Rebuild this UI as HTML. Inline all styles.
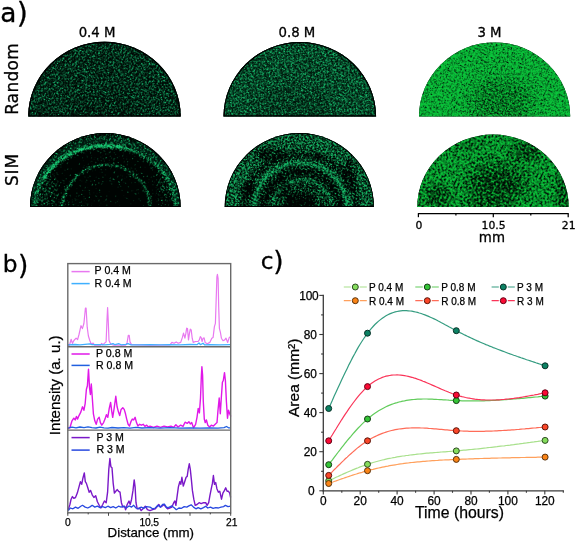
<!DOCTYPE html>
<html><head><meta charset="utf-8"><title>Figure</title>
<style>
html,body{margin:0;padding:0;background:#fff;}
svg{display:block;}
.dv{font-family:"DejaVu Sans","Liberation Sans",sans-serif;fill:#000;stroke:#000;stroke-width:0.3px;}
.ar{font-family:"Liberation Sans","DejaVu Sans",sans-serif;fill:#000;stroke:#000;stroke-width:0.25px;}
</style></head><body>
<svg width="575" height="542" viewBox="0 0 575 542">
<rect width="575" height="542" fill="#fff"/>
<defs>
<clipPath id="cs1"><path d="M28.2,116.6 A76.2,74.7 0 0 1 180.7,116.6 Z"/></clipPath>
<clipPath id="cs2"><path d="M223.5,116.6 A76.3,74.6 0 0 1 376.1,116.6 Z"/></clipPath>
<clipPath id="cs3"><path d="M419.0,116.6 A75.6,74.2 0 0 1 570.2,116.6 Z"/></clipPath>
<clipPath id="cs4"><path d="M30.0,206.9 A75.3,73.9 0 0 1 180.6,206.9 Z"/></clipPath>
<clipPath id="cs5"><path d="M224.7,206.9 A74.6,73.9 0 0 1 373.9,206.9 Z"/></clipPath>
<clipPath id="cs6"><path d="M417.3,206.9 A75.7,72.3 0 0 1 568.7,206.9 Z"/></clipPath>
<filter id="n1" x="0" y="0" width="100%" height="100%" color-interpolation-filters="sRGB">
<feTurbulence type="fractalNoise" baseFrequency="0.62" numOctaves="2" seed="3" result="n"/>
<feColorMatrix in="n" type="matrix" values="1 0 0 0 0  1 0 0 0 0  1 0 0 0 0  0 0 0 0 1" result="g"/>
<feComposite in="g" in2="SourceGraphic" operator="arithmetic" k1="0" k2="3.1" k3="1.0" k4="-2.426" result="i"/>
<feColorMatrix in="i" type="matrix" values="0.09 0 0 0 0  0 0.72 0 0 0.04  0 0 0.44 0 0.02  0 0 0 0 1"/>
</filter>
<filter id="n2" x="0" y="0" width="100%" height="100%" color-interpolation-filters="sRGB">
<feTurbulence type="fractalNoise" baseFrequency="0.62" numOctaves="2" seed="7" result="n"/>
<feColorMatrix in="n" type="matrix" values="1 0 0 0 0  1 0 0 0 0  1 0 0 0 0  0 0 0 0 1" result="g"/>
<feComposite in="g" in2="SourceGraphic" operator="arithmetic" k1="0" k2="3.2" k3="1.0" k4="-2.312" result="i"/>
<feColorMatrix in="i" type="matrix" values="0.09 0 0 0 0  0 0.68 0 0 0.08  0 0 0.4 0 0.04  0 0 0 0 1"/>
</filter>
<filter id="n3" x="0" y="0" width="100%" height="100%" color-interpolation-filters="sRGB">
<feTurbulence type="fractalNoise" baseFrequency="0.62" numOctaves="2" seed="11" result="n"/>
<feColorMatrix in="n" type="matrix" values="1 0 0 0 0  1 0 0 0 0  1 0 0 0 0  0 0 0 0 1" result="g"/>
<feComposite in="g" in2="SourceGraphic" operator="arithmetic" k1="0" k2="2.9" k3="1.0" k4="-1.551" result="i"/>
<feColorMatrix in="i" type="matrix" values="0.04 0 0 0 0  0 0.74 0 0 0.03  0 0 0.22 0 0.01  0 0 0 0 1"/>
</filter>
<filter id="n4" x="0" y="0" width="100%" height="100%" color-interpolation-filters="sRGB">
<feTurbulence type="fractalNoise" baseFrequency="0.62" numOctaves="2" seed="17" result="n"/>
<feColorMatrix in="n" type="matrix" values="1 0 0 0 0  1 0 0 0 0  1 0 0 0 0  0 0 0 0 1" result="g"/>
<feComposite in="g" in2="SourceGraphic" operator="arithmetic" k1="0" k2="3.8" k3="2.2" k4="-2.696" result="i"/>
<feColorMatrix in="i" type="matrix" values="0.1 0 0 0 0  0 0.8 0 0 0.015  0 0 0.46 0 0.008  0 0 0 0 1"/>
</filter>
<filter id="n5" x="0" y="0" width="100%" height="100%" color-interpolation-filters="sRGB">
<feTurbulence type="fractalNoise" baseFrequency="0.62" numOctaves="2" seed="23" result="n"/>
<feColorMatrix in="n" type="matrix" values="1 0 0 0 0  1 0 0 0 0  1 0 0 0 0  0 0 0 0 1" result="g"/>
<feComposite in="g" in2="SourceGraphic" operator="arithmetic" k1="0" k2="4.0" k3="1.5" k4="-2.650" result="i"/>
<feColorMatrix in="i" type="matrix" values="0.09 0 0 0 0  0 0.72 0 0 0.02  0 0 0.4 0 0.01  0 0 0 0 1"/>
</filter>
<filter id="n6" x="0" y="0" width="100%" height="100%" color-interpolation-filters="sRGB">
<feTurbulence type="fractalNoise" baseFrequency="0.5" numOctaves="2" seed="29" result="n"/>
<feColorMatrix in="n" type="matrix" values="1 0 0 0 0  1 0 0 0 0  1 0 0 0 0  0 0 0 0 1" result="g"/>
<feComposite in="g" in2="SourceGraphic" operator="arithmetic" k1="0" k2="3.8" k3="1.0" k4="-2.140" result="i"/>
<feColorMatrix in="i" type="matrix" values="0.04 0 0 0 0  0 0.74 0 0 0.03  0 0 0.22 0 0.01  0 0 0 0 1"/>
</filter>
<filter id="bl1" x="-20%" y="-20%" width="140%" height="140%"><feGaussianBlur stdDeviation="0.9"/></filter>
<filter id="bl2" x="-20%" y="-20%" width="140%" height="140%"><feGaussianBlur stdDeviation="2"/></filter>
<filter id="bl4" x="-20%" y="-20%" width="140%" height="140%"><feGaussianBlur stdDeviation="4"/></filter>
<filter id="bl8" x="-30%" y="-30%" width="160%" height="160%"><feGaussianBlur stdDeviation="8"/></filter>
</defs>
<g clip-path="url(#cs1)">
<rect x="25.2" y="38.9" width="158.4" height="80.7" fill="#000"/>
<g filter="url(#n1)" transform="rotate(27 104.5 79.2)"><g transform="rotate(-27 104.5 79.2)">
<rect x="-4.8" y="-11.1" width="218.4" height="180.7" fill="#000"/>
<rect x="25.2" y="38.9" width="158.4" height="80.7" fill="#ffffff"/><ellipse cx="104.5" cy="108.6" rx="40.0" ry="22.0" fill="#000000" opacity="0.08" filter="url(#bl8)"/>
</g></g>
<path d="M28.2,116.6 A76.2,74.7 0 0 1 180.7,116.6 Z" fill="none" stroke="#000" stroke-width="2.6"/>
</g>
<g clip-path="url(#cs2)">
<rect x="220.5" y="39.0" width="158.6" height="80.6" fill="#000"/>
<g filter="url(#n2)" transform="rotate(27 299.8 79.3)"><g transform="rotate(-27 299.8 79.3)">
<rect x="190.5" y="-11.0" width="218.6" height="180.6" fill="#000"/>
<rect x="220.5" y="39.0" width="158.6" height="80.6" fill="#ffffff"/><ellipse cx="294.8" cy="106.6" rx="40.0" ry="22.0" fill="#000000" opacity="0.1" filter="url(#bl8)"/>
</g></g>
<path d="M223.5,116.6 A76.3,74.6 0 0 1 376.1,116.6 Z" fill="none" stroke="#000" stroke-width="2.6"/>
</g>
<g clip-path="url(#cs3)">
<rect x="416.0" y="39.4" width="157.2" height="80.2" fill="#000"/>
<g filter="url(#n3)" transform="rotate(27 494.6 79.5)"><g transform="rotate(-27 494.6 79.5)">
<rect x="386.0" y="-10.6" width="217.2" height="180.2" fill="#000"/>
<rect x="416.0" y="39.4" width="157.2" height="80.2" fill="#ffffff"/><ellipse cx="500.6" cy="102.6" rx="32.0" ry="24.0" fill="#000000" opacity="0.3" filter="url(#bl8)"/>
</g></g>
</g>
<g clip-path="url(#cs4)">
<rect x="27.0" y="130.0" width="156.6" height="79.9" fill="#000"/>
<g filter="url(#n4)" transform="rotate(27 105.3 169.9)"><g transform="rotate(-27 105.3 169.9)">
<rect x="-3.0" y="80.0" width="216.6" height="179.9" fill="#000"/>
<rect x="27.0" y="130.0" width="156.6" height="79.9" fill="#5c5c5c"/><ellipse cx="105.3" cy="206.9" rx="67.0" ry="58.0" fill="#000000" opacity="0.92" filter="url(#bl2)"/><ellipse cx="48.3" cy="196.9" rx="12.0" ry="22.0" fill="#737373" opacity="0.7" filter="url(#bl4)"/><ellipse cx="163.3" cy="184.9" rx="8.0" ry="22.0" fill="#666666" opacity="0.7" filter="url(#bl4)"/><ellipse cx="83.3" cy="201.9" rx="20.0" ry="8.0" fill="#4c4c4c" opacity="0.5" filter="url(#bl4)"/><ellipse cx="110.3" cy="158.9" rx="30.0" ry="5.0" fill="#4c4c4c" opacity="0.6" filter="url(#bl4)"/><ellipse cx="115.3" cy="176.9" rx="30.0" ry="8.0" fill="#333333" opacity="0.5" filter="url(#bl4)"/><ellipse cx="105.3" cy="206.9" rx="70.0" ry="61.0" fill="none" stroke="#bdbdbd" stroke-width="1.9" opacity="1" filter="url(#bl1)"/><path d="M43.3,178.9 A70,61 0 0 1 125.3,148.4" fill="none" stroke="#e6e6e6" stroke-width="2.2" filter="url(#bl1)"/><ellipse cx="106.3" cy="208.9" rx="44.0" ry="44.0" fill="none" stroke="#cccccc" stroke-width="1.9" opacity="1" filter="url(#bl1)"/>
</g></g>
<g fill="none" stroke="#14a860" filter="url(#bl1)"><ellipse cx="105.3" cy="206.9" rx="70" ry="61" stroke-width="1.4" opacity="0.2"/><ellipse cx="106.3" cy="208.9" rx="44" ry="44" stroke-width="1.4" opacity="0.18"/><ellipse cx="105.3" cy="206.9" rx="73.5" ry="67" stroke-width="6" opacity="0.12"/></g>
<path d="M30.0,206.9 A75.3,73.9 0 0 1 180.6,206.9 Z" fill="none" stroke="#000" stroke-width="2.0"/>
</g>
<g clip-path="url(#cs5)">
<rect x="221.7" y="130.0" width="155.2" height="79.9" fill="#000"/>
<g filter="url(#n5)" transform="rotate(27 299.3 169.9)"><g transform="rotate(-27 299.3 169.9)">
<rect x="191.7" y="80.0" width="215.2" height="179.9" fill="#000"/>
<rect x="221.7" y="130.0" width="155.2" height="79.9" fill="#b5b5b5"/><ellipse cx="300.3" cy="207.9" rx="57.0" ry="53.0" fill="none" stroke="#000000" stroke-width="7" opacity="0.5" filter="url(#bl2)"/><ellipse cx="269.3" cy="153.9" rx="16.0" ry="6.0" fill="#000000" opacity="0.5" filter="url(#bl2)"/><ellipse cx="349.3" cy="174.9" rx="6.0" ry="16.0" fill="#000000" opacity="0.55" filter="url(#bl2)"/><ellipse cx="249.3" cy="190.9" rx="7.0" ry="9.0" fill="#000000" opacity="0.55" filter="url(#bl2)"/><ellipse cx="300.3" cy="208.9" rx="45.0" ry="45.0" fill="#000000" opacity="0.25" filter="url(#bl1)"/><ellipse cx="301.3" cy="208.9" rx="38.0" ry="37.0" fill="none" stroke="#000000" stroke-width="6" opacity="0.6" filter="url(#bl2)"/><ellipse cx="302.3" cy="208.9" rx="30.0" ry="29.0" fill="none" stroke="#ffffff" stroke-width="2.2" opacity="0.6" filter="url(#bl1)"/><ellipse cx="300.3" cy="203.9" rx="15.0" ry="12.0" fill="#000000" opacity="0.8" filter="url(#bl2)"/><ellipse cx="283.3" cy="188.9" rx="5.0" ry="10.0" fill="#000000" opacity="0.4" filter="url(#bl2)"/><ellipse cx="300.3" cy="208.9" rx="46.5" ry="46.0" fill="none" stroke="#ffffff" stroke-width="2.0" opacity="1" filter="url(#bl1)"/>
</g></g>
<g fill="none" stroke="#1cc070" filter="url(#bl1)"><ellipse cx="300.3" cy="208.9" rx="46.5" ry="46" stroke-width="1.3" opacity="0.4"/><ellipse cx="302.3" cy="208.9" rx="30" ry="29" stroke-width="1.2" opacity="0.2"/></g>
<path d="M224.7,206.9 A74.6,73.9 0 0 1 373.9,206.9 Z" fill="none" stroke="#000" stroke-width="2.0"/>
</g>
<g clip-path="url(#cs6)">
<rect x="414.3" y="131.6" width="157.4" height="78.3" fill="#000"/>
<g filter="url(#n6)" transform="rotate(27 493.0 170.8)"><g transform="rotate(-27 493.0 170.8)">
<rect x="384.3" y="81.6" width="217.4" height="178.3" fill="#000"/>
<rect x="414.3" y="131.6" width="157.4" height="78.3" fill="#f2f2f2"/><ellipse cx="497.0" cy="182.9" rx="30.0" ry="18.0" fill="#000000" opacity="0.5" filter="url(#bl8)"/><ellipse cx="527.0" cy="150.9" rx="15.0" ry="9.0" fill="#000000" opacity="0.45" filter="url(#bl4)"/><ellipse cx="437.0" cy="196.9" rx="13.0" ry="12.0" fill="#000000" opacity="0.4" filter="url(#bl4)"/><ellipse cx="563.0" cy="190.9" rx="6.0" ry="22.0" fill="#000000" opacity="0.45" filter="url(#bl4)"/><ellipse cx="489.0" cy="203.9" rx="26.0" ry="5.0" fill="#000000" opacity="0.4" filter="url(#bl4)"/><ellipse cx="463.0" cy="144.9" rx="20.0" ry="5.0" fill="#000000" opacity="0.25" filter="url(#bl4)"/><ellipse cx="533.0" cy="184.9" rx="8.0" ry="12.0" fill="#ffffff" opacity="0.3" filter="url(#bl4)"/><ellipse cx="455.0" cy="170.9" rx="16.0" ry="10.0" fill="#ffffff" opacity="0.3" filter="url(#bl4)"/>
</g></g>
</g>
<text class="dv" x="0.2" y="21.6" font-size="26.4">a</text>
<text class="dv" x="16.8" y="22.8" font-size="28.5">)</text>
<text class="dv" x="2.7" y="271.5" font-size="23.3">b</text>
<text class="dv" x="17.9" y="273.6" font-size="26.5">)</text>
<text class="dv" x="260.7" y="268.8" font-size="23.3">c</text>
<text class="dv" x="273.2" y="270.3" font-size="26.5">)</text>
<text class="dv" x="97.1" y="37.4" font-size="13.3" text-anchor="middle">0.4 M</text>
<text class="dv" x="296.9" y="37.4" font-size="13.3" text-anchor="middle">0.8 M</text>
<text class="dv" x="489.5" y="37.4" font-size="13.3" text-anchor="middle">3 M</text>
<text class="dv" transform="translate(18.3,78.9) rotate(-90)" font-size="17.0" text-anchor="middle" letter-spacing="0.25">Random</text>
<text class="dv" transform="translate(18.3,169.5) rotate(-90)" font-size="17.0" text-anchor="middle" letter-spacing="0.9">SIM</text>
<g stroke="#000" stroke-width="1.25" fill="none">
<line x1="417.9" y1="213.6" x2="568.7" y2="213.6"/>
<line x1="418.4" y1="213.6" x2="418.4" y2="217.2"/>
<line x1="455.9" y1="213.6" x2="455.9" y2="215.6"/>
<line x1="493.3" y1="213.6" x2="493.3" y2="217.2"/>
<line x1="530.8" y1="213.6" x2="530.8" y2="215.6"/>
<line x1="568.2" y1="213.6" x2="568.2" y2="217.2"/>
</g>
<text class="dv" x="418.9" y="228.5" font-size="10.8" text-anchor="middle">0</text>
<text class="dv" x="493.6" y="228.5" font-size="10.8" text-anchor="middle">10.5</text>
<text class="dv" x="568.7" y="228.5" font-size="10.8" text-anchor="middle">21</text>
<text class="dv" x="491.9" y="241.5" font-size="13.4" text-anchor="middle">mm</text>
<polyline points="67.7,345.2 69.4,345.2 71.2,339.3 72.4,343.4 73.9,340.5 76.1,338.2 77.6,339.7 79.0,334.5 81.0,325.7 82.4,328.6 83.9,323.5 85.4,308.2 86.1,308.2 87.2,327.2 88.4,336.0 89.8,340.5 91.3,344.2 93.1,343.1 94.6,345.2 100.5,345.2 101.7,343.4 102.8,344.9 104.6,343.1 106.1,341.9 107.0,319.8 107.6,307.6 108.2,319.8 109.0,340.5 110.8,344.2 113.8,345.2 125.6,345.2 127.1,342.7 128.3,335.3 129.2,335.3 130.0,341.9 131.5,344.6 150.0,345.2 169.9,344.9 171.9,342.4 174.1,343.2 176.2,341.9 178.2,343.2 180.7,342.4 182.4,337.4 183.5,333.2 184.9,338.2 185.9,333.2 186.7,328.2 187.5,328.6 188.5,339.9 189.5,333.2 190.3,329.1 191.2,329.9 192.2,338.2 193.2,342.4 195.6,341.5 198.1,341.5 199.3,339.9 200.3,336.6 201.1,337.4 202.1,341.5 203.1,338.2 204.1,337.9 205.1,342.4 207.3,343.7 209.8,342.4 211.8,338.2 213.1,337.4 214.4,326.6 215.4,323.3 216.1,301.7 216.9,276.8 217.4,274.3 218.1,278.5 218.7,306.7 219.4,328.3 220.4,332.4 221.4,338.2 223.0,340.7 224.7,339.9 226.0,338.2 227.7,342.4 229.3,337.4 230.7,336.6" fill="none" stroke="#e878f0" stroke-width="1.2" stroke-linejoin="round"/>
<polyline points="67.7,344.8 75.0,344.5 80.0,344.9 85.0,344.4 90.0,343.8 92.0,344.7 100.0,344.6 105.0,344.9 110.0,344.4 113.0,343.6 115.0,344.7 119.0,343.7 121.0,344.8 126.0,344.4 128.0,343.6 131.0,344.8 140.0,344.9 150.0,344.7 160.0,344.9 170.0,344.6 180.0,344.8 190.0,344.5 197.0,344.7 199.0,343.0 200.5,344.7 203.0,343.2 204.5,344.8 210.0,344.7 220.0,344.8 230.7,344.6" fill="none" stroke="#3fb0ff" stroke-width="1.3" stroke-linejoin="round"/>
<polyline points="67.7,428.2 69.9,427.8 72.0,420.8 73.8,418.2 75.2,419.9 76.4,416.4 77.6,419.1 79.0,415.6 80.8,412.1 82.5,406.8 83.9,410.3 85.2,403.3 86.4,389.3 87.4,385.8 88.5,369.1 89.5,387.5 90.4,394.5 91.3,384.0 92.3,398.0 93.4,413.8 94.8,420.8 96.2,424.3 97.6,419.1 99.2,417.3 100.4,422.6 101.8,425.2 103.6,422.6 105.0,419.1 106.4,414.7 107.8,417.3 109.2,408.6 110.6,402.4 111.6,410.3 112.7,417.3 114.1,408.6 115.8,396.3 117.1,406.8 118.5,412.1 119.7,415.6 121.1,409.4 122.8,407.7 124.2,409.4 125.5,413.8 126.7,419.1 128.1,424.3 129.5,426.1 130.9,421.7 132.3,419.1 133.7,419.9 135.1,417.3 136.5,422.6 137.9,426.1 139.7,424.3 141.4,425.2 143.2,424.3 144.9,426.4 146.7,425.2 148.4,427.0 150.0,426.1 153.5,427.5 157.0,426.1 160.5,427.3 164.0,426.1 167.5,427.0 171.0,426.1 173.7,427.3 175.9,424.7 178.0,427.0 180.7,425.2 183.0,426.4 185.1,422.2 187.2,423.4 188.9,421.7 190.3,424.0 191.7,422.6 193.5,427.8 195.6,424.3 197.0,417.3 198.2,408.5 199.4,412.9 200.5,398.0 201.4,375.2 201.9,366.8 202.6,375.2 203.3,401.5 204.3,419.1 205.2,422.6 206.4,419.9 207.8,425.2 209.6,427.0 211.3,425.2 213.4,426.1 215.2,424.3 217.0,422.6 218.0,410.3 219.2,398.0 220.3,413.8 221.3,398.0 222.4,382.3 223.3,380.5 224.5,372.6 225.4,380.5 226.4,401.5 227.5,418.2 228.5,410.3 229.7,413.8 230.8,416.4" fill="none" stroke="#e018e8" stroke-width="1.4" stroke-linejoin="round"/>
<polyline points="67.7,428.2 72.0,427.2 76.0,427.8 80.0,427.0 84.0,427.7 88.0,426.8 92.0,427.6 96.0,428.0 100.0,427.2 104.0,427.8 108.0,428.1 112.0,427.5 118.0,428.0 124.0,427.6 130.0,428.1 136.0,427.4 142.0,428.0 150.0,427.7 160.0,428.1 170.0,427.7 180.0,428.1 190.0,427.8 200.0,428.1 210.0,427.8 218.0,428.1 224.0,427.7 226.5,426.5 228.5,427.8 230.8,427.8" fill="none" stroke="#2060e0" stroke-width="1.3" stroke-linejoin="round"/>
<polyline points="68.2,509.7 69.9,504.5 71.1,499.2 72.4,496.6 73.8,498.3 75.5,497.5 77.3,493.1 79.0,486.9 80.4,481.7 81.7,484.3 82.9,478.2 84.3,472.9 85.3,481.7 86.4,483.4 87.8,487.8 89.2,492.2 90.6,490.4 92.2,494.8 93.9,497.5 95.7,495.7 97.4,501.8 99.2,505.3 100.9,508.0 102.7,504.5 104.4,501.0 106.2,502.7 107.6,492.2 108.8,469.4 109.9,458.5 110.9,466.8 112.0,467.7 113.2,483.4 114.4,493.1 115.8,491.3 117.2,489.6 118.6,491.3 120.0,492.2 121.4,502.7 122.8,507.1 124.6,506.2 125.6,509.7 127.2,504.5 129.0,501.0 130.2,504.5 131.6,499.2 133.0,490.4 134.2,479.9 135.1,486.9 136.0,502.7 137.2,508.8 139.5,508.0 141.2,510.6 143.0,508.8 145.3,506.2 147.4,509.7 150.0,510.6 152.6,509.7 155.3,508.8 157.4,506.2 158.8,504.5 160.5,507.1 162.3,505.9 164.0,504.5 165.8,507.1 167.5,508.8 169.6,508.0 171.9,507.1 173.7,502.7 174.9,501.0 175.9,505.3 177.2,495.7 178.4,486.9 179.8,481.7 180.8,484.3 181.9,477.3 183.3,486.1 184.7,481.7 186.1,477.3 187.2,476.4 188.2,469.4 189.3,463.8 190.3,469.4 191.4,479.9 192.4,490.4 193.8,499.2 195.2,505.3 197.0,504.5 199.1,502.7 201.2,503.6 203.5,502.7 205.7,502.7 207.1,505.3 208.7,502.7 209.9,495.7 211.3,488.7 212.4,483.4 213.4,475.5 214.5,484.3 215.7,482.6 216.9,488.7 218.4,492.2 219.8,491.3 221.5,499.2 222.9,493.1 224.5,490.4 225.7,487.8 227.1,491.3 228.5,491.3 229.7,493.1 230.6,497.5" fill="none" stroke="#7a18c8" stroke-width="1.4" stroke-linejoin="round"/>
<polyline points="68.2,510.6 70.3,508.0 72.9,508.8 75.5,507.1 78.1,508.3 80.8,506.2 82.5,505.3 85.2,507.1 87.8,508.0 90.4,506.6 92.2,505.3 94.8,507.1 97.4,506.2 100.1,507.6 102.7,506.6 105.3,507.6 107.9,506.2 110.6,507.6 113.2,506.6 115.8,508.0 118.5,506.2 121.1,507.1 123.7,506.2 126.3,508.0 129.0,505.9 131.6,507.1 133.7,505.3 136.0,508.0 138.6,508.8 141.2,507.1 143.9,508.3 146.5,506.6 150.0,507.1 152.6,508.8 155.3,508.0 157.9,505.3 160.5,507.1 162.6,504.5 164.4,504.1 166.7,507.6 169.3,507.1 171.9,505.9 174.5,508.0 176.3,509.7 178.9,508.0 181.5,508.3 184.2,506.6 186.8,507.1 188.9,505.9 191.2,504.8 193.5,507.1 195.9,508.8 198.2,507.6 200.8,508.8 203.5,507.6 205.7,506.2 207.8,508.0 210.5,507.1 213.1,508.3 215.7,507.6 218.4,508.0 221.0,507.1 223.6,506.6 225.4,505.3 228.0,506.6 230.6,506.2" fill="none" stroke="#2848e0" stroke-width="1.3" stroke-linejoin="round"/>
<g stroke="#6a6a6a" stroke-width="1.4" fill="none">
<rect x="67.8" y="263.6" width="162.9" height="249.2"/>
<line x1="67.8" y1="346.8" x2="230.7" y2="346.8"/>
<line x1="67.8" y1="430.1" x2="230.7" y2="430.1"/>
</g>
<g stroke="#333" stroke-width="0.9" fill="none">
<line x1="67.8" y1="512.8" x2="67.8" y2="515.8"/>
<line x1="88.2" y1="512.8" x2="88.2" y2="514.4"/>
<line x1="108.5" y1="512.8" x2="108.5" y2="515.8"/>
<line x1="128.9" y1="512.8" x2="128.9" y2="514.4"/>
<line x1="149.2" y1="512.8" x2="149.2" y2="515.8"/>
<line x1="169.6" y1="512.8" x2="169.6" y2="514.4"/>
<line x1="190.0" y1="512.8" x2="190.0" y2="515.8"/>
<line x1="210.3" y1="512.8" x2="210.3" y2="514.4"/>
<line x1="230.7" y1="512.8" x2="230.7" y2="515.8"/>
</g>
<text class="ar" x="67.8" y="525.5" font-size="10.3" letter-spacing="-0.15" text-anchor="middle">0</text>
<text class="ar" x="149.2" y="525.5" font-size="10.3" letter-spacing="-0.15" text-anchor="middle">10.5</text>
<text class="ar" x="231.7" y="525.5" font-size="10.3" letter-spacing="-0.15" text-anchor="middle">21</text>
<text class="ar" x="150.8" y="537.4" font-size="13.3" text-anchor="middle">Distance (mm)</text>
<text class="ar" transform="translate(59.7,385.3) rotate(-90)" font-size="15.1" text-anchor="middle">Intensity (a. u.)</text>
<line x1="71.5" y1="271.6" x2="89.7" y2="271.6" stroke="#e878f0" stroke-width="1.5"/>
<line x1="71.5" y1="283.6" x2="89.7" y2="283.6" stroke="#3fb0ff" stroke-width="1.5"/>
<text class="ar" x="94.6" y="274.1" font-size="10.6">P 0.4 M</text>
<text class="ar" x="94.6" y="286.7" font-size="10.6">R 0.4 M</text>
<line x1="71.5" y1="354.0" x2="89.7" y2="354.0" stroke="#e018e8" stroke-width="1.5"/>
<line x1="71.5" y1="365.4" x2="89.7" y2="365.4" stroke="#2060e0" stroke-width="1.5"/>
<text class="ar" x="96.0" y="357.3" font-size="10.6">P 0.8 M</text>
<text class="ar" x="96.0" y="368.5" font-size="10.6">R 0.8 M</text>
<line x1="71.5" y1="437.6" x2="89.7" y2="437.6" stroke="#7a18c8" stroke-width="1.5"/>
<line x1="71.5" y1="450.1" x2="89.7" y2="450.1" stroke="#2848e0" stroke-width="1.5"/>
<text class="ar" x="96.4" y="440.5" font-size="10.6">P 3 M</text>
<text class="ar" x="96.4" y="453.1" font-size="10.6">R 3 M</text>
<polyline points="328.7,480.8 330.5,479.9 332.4,479.1 334.2,478.2 336.1,477.3 337.9,476.5 339.8,475.6 341.6,474.8 343.5,473.9 345.3,473.1 347.2,472.3 349.0,471.5 350.9,470.7 352.7,469.9 354.6,469.1 356.4,468.4 358.2,467.7 360.1,466.9 362.0,466.2 363.8,465.6 365.7,464.9 367.5,464.3 369.4,463.7 371.2,463.1 373.1,462.5 374.9,462.0 376.8,461.5 378.6,461.0 380.5,460.5 382.3,460.0 384.2,459.6 386.0,459.1 387.9,458.7 389.7,458.3 391.6,458.0 393.4,457.6 395.2,457.3 397.1,456.9 399.0,456.6 400.8,456.3 402.7,456.0 404.5,455.8 406.4,455.5 408.2,455.3 410.1,455.0 411.9,454.8 413.8,454.6 415.6,454.4 417.5,454.1 419.3,454.0 421.2,453.8 423.0,453.6 424.9,453.4 426.7,453.2 428.6,453.1 430.4,452.9 432.2,452.8 434.1,452.6 436.0,452.5 437.8,452.3 439.7,452.2 441.5,452.0 443.4,451.9 445.2,451.8 447.1,451.6 448.9,451.5 450.8,451.3 452.6,451.2 454.5,451.0 456.3,450.9 458.2,450.7 460.0,450.6 461.9,450.4 463.7,450.2 465.6,450.1 467.4,449.9 469.2,449.7 471.1,449.5 473.0,449.3 474.8,449.1 476.7,449.0 478.5,448.8 480.4,448.6 482.2,448.4 484.1,448.2 485.9,448.0 487.8,447.7 489.6,447.5 491.5,447.3 493.3,447.1 495.2,446.9 497.0,446.7 498.9,446.4 500.7,446.2 502.6,446.0 504.4,445.8 506.2,445.5 508.1,445.3 510.0,445.1 511.8,444.8 513.7,444.6 515.5,444.3 517.4,444.1 519.2,443.9 521.1,443.6 522.9,443.4 524.8,443.1 526.6,442.9 528.5,442.6 530.3,442.4 532.2,442.1 534.0,441.9 535.9,441.6 537.7,441.4 539.6,441.1 541.4,440.9 543.2,440.6 545.1,440.4" fill="none" stroke="#a8e08c" stroke-width="1.2"/>
<polyline points="328.7,464.7 330.5,462.2 332.4,459.8 334.2,457.3 336.1,454.9 337.9,452.5 339.8,450.1 341.6,447.7 343.5,445.3 345.3,443.0 347.2,440.7 349.0,438.5 350.9,436.3 352.7,434.1 354.6,432.0 356.4,430.0 358.2,428.0 360.1,426.1 362.0,424.2 363.8,422.4 365.7,420.7 367.5,419.0 369.4,417.5 371.2,416.0 373.1,414.6 374.9,413.3 376.8,412.0 378.6,410.8 380.5,409.7 382.3,408.7 384.2,407.7 386.0,406.8 387.9,405.9 389.7,405.1 391.6,404.4 393.4,403.7 395.2,403.1 397.1,402.6 399.0,402.0 400.8,401.6 402.7,401.1 404.5,400.8 406.4,400.4 408.2,400.1 410.1,399.9 411.9,399.7 413.8,399.5 415.6,399.3 417.5,399.2 419.3,399.1 421.2,399.1 423.0,399.0 424.9,399.0 426.7,399.0 428.6,399.1 430.4,399.1 432.2,399.2 434.1,399.3 436.0,399.4 437.8,399.5 439.7,399.6 441.5,399.7 443.4,399.8 445.2,399.9 447.1,400.0 448.9,400.2 450.8,400.3 452.6,400.4 454.5,400.5 456.3,400.6 458.2,400.7 460.0,400.7 461.9,400.8 463.7,400.8 465.6,400.9 467.4,400.9 469.2,400.9 471.1,400.9 473.0,400.9 474.8,400.9 476.7,400.9 478.5,400.9 480.4,400.9 482.2,400.8 484.1,400.8 485.9,400.7 487.8,400.6 489.6,400.6 491.5,400.5 493.3,400.4 495.2,400.3 497.0,400.2 498.9,400.1 500.7,400.0 502.6,399.9 504.4,399.7 506.2,399.6 508.1,399.5 510.0,399.3 511.8,399.2 513.7,399.0 515.5,398.9 517.4,398.7 519.2,398.6 521.1,398.4 522.9,398.3 524.8,398.1 526.6,397.9 528.5,397.7 530.3,397.6 532.2,397.4 534.0,397.2 535.9,397.0 537.7,396.9 539.6,396.7 541.4,396.5 543.2,396.3 545.1,396.1" fill="none" stroke="#62cc5c" stroke-width="1.2"/>
<polyline points="328.7,408.5 330.5,404.4 332.4,400.3 334.2,396.1 336.1,392.0 337.9,388.0 339.8,384.0 341.6,380.0 343.5,376.0 345.3,372.2 347.2,368.4 349.0,364.6 350.9,361.0 352.7,357.4 354.6,354.0 356.4,350.6 358.2,347.4 360.1,344.3 362.0,341.3 363.8,338.5 365.7,335.8 367.5,333.2 369.4,330.8 371.2,328.6 373.1,326.5 374.9,324.5 376.8,322.7 378.6,321.1 380.5,319.6 382.3,318.2 384.2,316.9 386.0,315.8 387.9,314.8 389.7,313.9 391.6,313.1 393.4,312.5 395.2,311.9 397.1,311.5 399.0,311.1 400.8,310.9 402.7,310.7 404.5,310.7 406.4,310.7 408.2,310.8 410.1,311.0 411.9,311.2 413.8,311.6 415.6,312.0 417.5,312.4 419.3,313.0 421.2,313.5 423.0,314.2 424.9,314.9 426.7,315.6 428.6,316.4 430.4,317.2 432.2,318.0 434.1,318.9 436.0,319.8 437.8,320.8 439.7,321.7 441.5,322.7 443.4,323.7 445.2,324.7 447.1,325.7 448.9,326.7 450.8,327.7 452.6,328.7 454.5,329.7 456.3,330.7 458.2,331.6 460.0,332.6 461.9,333.5 463.7,334.5 465.6,335.4 467.4,336.3 469.2,337.1 471.1,338.0 473.0,338.9 474.8,339.7 476.7,340.6 478.5,341.4 480.4,342.2 482.2,343.0 484.1,343.8 485.9,344.6 487.8,345.3 489.6,346.1 491.5,346.8 493.3,347.6 495.2,348.3 497.0,349.0 498.9,349.7 500.7,350.4 502.6,351.1 504.4,351.8 506.2,352.5 508.1,353.2 510.0,353.9 511.8,354.5 513.7,355.2 515.5,355.8 517.4,356.5 519.2,357.1 521.1,357.8 522.9,358.4 524.8,359.0 526.6,359.7 528.5,360.3 530.3,360.9 532.2,361.5 534.0,362.1 535.9,362.8 537.7,363.4 539.6,364.0 541.4,364.6 543.2,365.2 545.1,365.8" fill="none" stroke="#349c80" stroke-width="1.2"/>
<polyline points="328.7,483.5 330.5,482.8 332.4,482.2 334.2,481.5 336.1,480.9 337.9,480.2 339.8,479.5 341.6,478.9 343.5,478.3 345.3,477.6 347.2,477.0 349.0,476.4 350.9,475.7 352.7,475.1 354.6,474.5 356.4,474.0 358.2,473.4 360.1,472.8 362.0,472.3 363.8,471.7 365.7,471.2 367.5,470.7 369.4,470.2 371.2,469.7 373.1,469.3 374.9,468.8 376.8,468.4 378.6,468.0 380.5,467.6 382.3,467.2 384.2,466.8 386.0,466.4 387.9,466.1 389.7,465.7 391.6,465.4 393.4,465.1 395.2,464.8 397.1,464.5 399.0,464.2 400.8,463.9 402.7,463.7 404.5,463.4 406.4,463.2 408.2,463.0 410.1,462.7 411.9,462.5 413.8,462.3 415.6,462.1 417.5,461.9 419.3,461.8 421.2,461.6 423.0,461.4 424.9,461.3 426.7,461.1 428.6,461.0 430.4,460.8 432.2,460.7 434.1,460.6 436.0,460.5 437.8,460.4 439.7,460.2 441.5,460.1 443.4,460.0 445.2,459.9 447.1,459.9 448.9,459.8 450.8,459.7 452.6,459.6 454.5,459.5 456.3,459.4 458.2,459.4 460.0,459.3 461.9,459.2 463.7,459.1 465.6,459.1 467.4,459.0 469.2,458.9 471.1,458.9 473.0,458.8 474.8,458.7 476.7,458.7 478.5,458.6 480.4,458.5 482.2,458.5 484.1,458.4 485.9,458.4 487.8,458.3 489.6,458.3 491.5,458.2 493.3,458.2 495.2,458.1 497.0,458.1 498.9,458.0 500.7,458.0 502.6,457.9 504.4,457.9 506.2,457.9 508.1,457.8 510.0,457.8 511.8,457.7 513.7,457.7 515.5,457.7 517.4,457.6 519.2,457.6 521.1,457.5 522.9,457.5 524.8,457.5 526.6,457.4 528.5,457.4 530.3,457.4 532.2,457.3 534.0,457.3 535.9,457.3 537.7,457.2 539.6,457.2 541.4,457.2 543.2,457.1 545.1,457.1" fill="none" stroke="#ffa05c" stroke-width="1.2"/>
<polyline points="328.7,475.4 330.5,473.5 332.4,471.6 334.2,469.7 336.1,467.9 337.9,466.0 339.8,464.2 341.6,462.4 343.5,460.6 345.3,458.8 347.2,457.1 349.0,455.4 350.9,453.7 352.7,452.1 354.6,450.5 356.4,448.9 358.2,447.4 360.1,446.0 362.0,444.6 363.8,443.3 365.7,442.0 367.5,440.8 369.4,439.6 371.2,438.6 373.1,437.5 374.9,436.6 376.8,435.7 378.6,434.9 380.5,434.1 382.3,433.4 384.2,432.7 386.0,432.1 387.9,431.5 389.7,431.0 391.6,430.5 393.4,430.1 395.2,429.7 397.1,429.3 399.0,429.0 400.8,428.8 402.7,428.6 404.5,428.4 406.4,428.2 408.2,428.1 410.1,428.0 411.9,427.9 413.8,427.9 415.6,427.9 417.5,427.9 419.3,427.9 421.2,428.0 423.0,428.0 424.9,428.1 426.7,428.2 428.6,428.4 430.4,428.5 432.2,428.6 434.1,428.8 436.0,428.9 437.8,429.1 439.7,429.3 441.5,429.4 443.4,429.6 445.2,429.8 447.1,429.9 448.9,430.1 450.8,430.3 452.6,430.4 454.5,430.6 456.3,430.7 458.2,430.8 460.0,430.9 461.9,431.0 463.7,431.1 465.6,431.2 467.4,431.2 469.2,431.3 471.1,431.3 473.0,431.3 474.8,431.3 476.7,431.3 478.5,431.3 480.4,431.3 482.2,431.3 484.1,431.3 485.9,431.2 487.8,431.2 489.6,431.1 491.5,431.1 493.3,431.0 495.2,430.9 497.0,430.8 498.9,430.7 500.7,430.6 502.6,430.5 504.4,430.4 506.2,430.3 508.1,430.2 510.0,430.1 511.8,429.9 513.7,429.8 515.5,429.7 517.4,429.5 519.2,429.4 521.1,429.2 522.9,429.0 524.8,428.9 526.6,428.7 528.5,428.6 530.3,428.4 532.2,428.2 534.0,428.0 535.9,427.9 537.7,427.7 539.6,427.5 541.4,427.4 543.2,427.2 545.1,427.0" fill="none" stroke="#ff6c58" stroke-width="1.2"/>
<polyline points="328.7,440.8 330.5,437.7 332.4,434.7 334.2,431.7 336.1,428.7 337.9,425.7 339.8,422.7 341.6,419.8 343.5,416.9 345.3,414.1 347.2,411.4 349.0,408.7 350.9,406.0 352.7,403.5 354.6,401.0 356.4,398.6 358.2,396.4 360.1,394.2 362.0,392.1 363.8,390.1 365.7,388.3 367.5,386.6 369.4,385.0 371.2,383.6 373.1,382.3 374.9,381.1 376.8,380.0 378.6,379.0 380.5,378.2 382.3,377.4 384.2,376.8 386.0,376.2 387.9,375.8 389.7,375.5 391.6,375.2 393.4,375.0 395.2,375.0 397.1,374.9 399.0,375.0 400.8,375.2 402.7,375.4 404.5,375.6 406.4,376.0 408.2,376.4 410.1,376.8 411.9,377.3 413.8,377.9 415.6,378.4 417.5,379.1 419.3,379.7 421.2,380.4 423.0,381.2 424.9,381.9 426.7,382.7 428.6,383.5 430.4,384.3 432.2,385.1 434.1,385.9 436.0,386.7 437.8,387.5 439.7,388.4 441.5,389.2 443.4,390.0 445.2,390.8 447.1,391.5 448.9,392.3 450.8,393.0 452.6,393.7 454.5,394.3 456.3,395.0 458.2,395.5 460.0,396.1 461.9,396.6 463.7,397.0 465.6,397.5 467.4,397.9 469.2,398.2 471.1,398.5 473.0,398.8 474.8,399.1 476.7,399.3 478.5,399.5 480.4,399.7 482.2,399.8 484.1,399.9 485.9,400.0 487.8,400.0 489.6,400.0 491.5,400.0 493.3,400.0 495.2,400.0 497.0,399.9 498.9,399.8 500.7,399.7 502.6,399.5 504.4,399.4 506.2,399.2 508.1,399.0 510.0,398.8 511.8,398.6 513.7,398.4 515.5,398.1 517.4,397.8 519.2,397.6 521.1,397.3 522.9,397.0 524.8,396.7 526.6,396.3 528.5,396.0 530.3,395.7 532.2,395.3 534.0,395.0 535.9,394.6 537.7,394.3 539.6,393.9 541.4,393.5 543.2,393.2 545.1,392.8" fill="none" stroke="#fa3458" stroke-width="1.2"/>
<circle cx="328.7" cy="480.8" r="3.0" fill="#84dc5c" stroke="#2c4a22" stroke-width="1.0"/>
<circle cx="367.5" cy="464.3" r="3.0" fill="#84dc5c" stroke="#2c4a22" stroke-width="1.0"/>
<circle cx="456.3" cy="450.9" r="3.0" fill="#84dc5c" stroke="#2c4a22" stroke-width="1.0"/>
<circle cx="545.1" cy="440.4" r="3.0" fill="#84dc5c" stroke="#2c4a22" stroke-width="1.0"/>
<circle cx="328.7" cy="464.7" r="3.0" fill="#34c436" stroke="#143c14" stroke-width="1.0"/>
<circle cx="367.5" cy="419.0" r="3.0" fill="#34c436" stroke="#143c14" stroke-width="1.0"/>
<circle cx="456.3" cy="400.6" r="3.0" fill="#34c436" stroke="#143c14" stroke-width="1.0"/>
<circle cx="545.1" cy="396.1" r="3.0" fill="#34c436" stroke="#143c14" stroke-width="1.0"/>
<circle cx="328.7" cy="408.5" r="3.0" fill="#0c8264" stroke="#0a3228" stroke-width="1.0"/>
<circle cx="367.5" cy="333.2" r="3.0" fill="#0c8264" stroke="#0a3228" stroke-width="1.0"/>
<circle cx="456.3" cy="330.7" r="3.0" fill="#0c8264" stroke="#0a3228" stroke-width="1.0"/>
<circle cx="545.1" cy="365.8" r="3.0" fill="#0c8264" stroke="#0a3228" stroke-width="1.0"/>
<circle cx="328.7" cy="483.5" r="3.0" fill="#fa8416" stroke="#5a320c" stroke-width="1.0"/>
<circle cx="367.5" cy="470.7" r="3.0" fill="#fa8416" stroke="#5a320c" stroke-width="1.0"/>
<circle cx="456.3" cy="459.4" r="3.0" fill="#fa8416" stroke="#5a320c" stroke-width="1.0"/>
<circle cx="545.1" cy="457.1" r="3.0" fill="#fa8416" stroke="#5a320c" stroke-width="1.0"/>
<circle cx="328.7" cy="475.4" r="3.0" fill="#fa4628" stroke="#5a140a" stroke-width="1.0"/>
<circle cx="367.5" cy="440.8" r="3.0" fill="#fa4628" stroke="#5a140a" stroke-width="1.0"/>
<circle cx="456.3" cy="430.7" r="3.0" fill="#fa4628" stroke="#5a140a" stroke-width="1.0"/>
<circle cx="545.1" cy="427.0" r="3.0" fill="#fa4628" stroke="#5a140a" stroke-width="1.0"/>
<circle cx="328.7" cy="440.8" r="3.0" fill="#fa0a34" stroke="#640014" stroke-width="1.0"/>
<circle cx="367.5" cy="386.6" r="3.0" fill="#fa0a34" stroke="#640014" stroke-width="1.0"/>
<circle cx="456.3" cy="395.0" r="3.0" fill="#fa0a34" stroke="#640014" stroke-width="1.0"/>
<circle cx="545.1" cy="392.8" r="3.0" fill="#fa0a34" stroke="#640014" stroke-width="1.0"/>
<g stroke="#3a3a3a" stroke-width="1.3" fill="none">
<line x1="323.3" y1="294.8" x2="323.3" y2="491.40000000000003"/>
<line x1="322.7" y1="490.8" x2="563.9" y2="490.8"/>
</g><g stroke="#3a3a3a" stroke-width="1.1" fill="none">
<line x1="319.3" y1="490.8" x2="323.3" y2="490.8"/>
<line x1="321.1" y1="471.3" x2="323.3" y2="471.3"/>
<line x1="319.3" y1="451.7" x2="323.3" y2="451.7"/>
<line x1="321.1" y1="432.2" x2="323.3" y2="432.2"/>
<line x1="319.3" y1="412.6" x2="323.3" y2="412.6"/>
<line x1="321.1" y1="393.1" x2="323.3" y2="393.1"/>
<line x1="319.3" y1="373.6" x2="323.3" y2="373.6"/>
<line x1="321.1" y1="354.0" x2="323.3" y2="354.0"/>
<line x1="319.3" y1="334.5" x2="323.3" y2="334.5"/>
<line x1="321.1" y1="314.9" x2="323.3" y2="314.9"/>
<line x1="319.3" y1="295.4" x2="323.3" y2="295.4"/>
<line x1="323.3" y1="490.8" x2="323.3" y2="494.40000000000003"/>
<line x1="341.8" y1="490.8" x2="341.8" y2="492.8"/>
<line x1="360.2" y1="490.8" x2="360.2" y2="494.40000000000003"/>
<line x1="378.7" y1="490.8" x2="378.7" y2="492.8"/>
<line x1="397.1" y1="490.8" x2="397.1" y2="494.40000000000003"/>
<line x1="415.6" y1="490.8" x2="415.6" y2="492.8"/>
<line x1="434.1" y1="490.8" x2="434.1" y2="494.40000000000003"/>
<line x1="452.5" y1="490.8" x2="452.5" y2="492.8"/>
<line x1="471.0" y1="490.8" x2="471.0" y2="494.40000000000003"/>
<line x1="489.4" y1="490.8" x2="489.4" y2="492.8"/>
<line x1="507.9" y1="490.8" x2="507.9" y2="494.40000000000003"/>
<line x1="526.4" y1="490.8" x2="526.4" y2="492.8"/>
<line x1="544.8" y1="490.8" x2="544.8" y2="494.40000000000003"/>
<line x1="563.3" y1="490.8" x2="563.3" y2="492.8"/>
</g>
<text class="ar" x="314.6" y="495.3" font-size="11.9" text-anchor="end">0</text>
<text class="ar" x="316.9" y="456.2" font-size="11.9" text-anchor="end">20</text>
<text class="ar" x="316.9" y="417.1" font-size="11.9" text-anchor="end">40</text>
<text class="ar" x="316.9" y="378.1" font-size="11.9" text-anchor="end">60</text>
<text class="ar" x="316.9" y="339.0" font-size="11.9" text-anchor="end">80</text>
<text class="ar" x="318.3" y="299.9" font-size="11.9" text-anchor="end" letter-spacing="-0.3">100</text>
<text class="ar" x="323.3" y="504.8" font-size="11.9" text-anchor="middle">0</text>
<text class="ar" x="360.2" y="504.8" font-size="11.9" text-anchor="middle">20</text>
<text class="ar" x="397.1" y="504.8" font-size="11.9" text-anchor="middle">40</text>
<text class="ar" x="434.1" y="504.8" font-size="11.9" text-anchor="middle">60</text>
<text class="ar" x="471.0" y="504.8" font-size="11.9" text-anchor="middle">80</text>
<text class="ar" x="507.9" y="504.8" font-size="11.9" text-anchor="middle">100</text>
<text class="ar" x="544.8" y="504.8" font-size="11.9" text-anchor="middle">120</text>
<text class="ar" x="459.5" y="518.1" font-size="15.8" text-anchor="middle">Time (hours)</text>
<text class="ar" transform="translate(298.6,377.8) rotate(-90)" font-size="15.5" text-anchor="middle">Area (mm²)</text>
<path d="M343.8,287.0H350.8M359.8,287.0H366.8" stroke="#a8e08c" stroke-width="1.2" fill="none"/>
<circle cx="355.3" cy="287.0" r="3.0" fill="#84dc5c" stroke="#2c4a22" stroke-width="1.0"/>
<text class="ar" x="369.0" y="290.8" font-size="10">P 0.4 M</text>
<path d="M343.8,300.7H350.8M359.8,300.7H366.8" stroke="#ffa05c" stroke-width="1.2" fill="none"/>
<circle cx="355.3" cy="300.7" r="3.0" fill="#fa8416" stroke="#5a320c" stroke-width="1.0"/>
<text class="ar" x="369.0" y="304.5" font-size="10">R 0.4 M</text>
<path d="M415.3,287.0H422.8M431.8,287.0H438.8" stroke="#62cc5c" stroke-width="1.2" fill="none"/>
<circle cx="427.3" cy="287.0" r="3.0" fill="#34c436" stroke="#143c14" stroke-width="1.0"/>
<text class="ar" x="441.2" y="290.8" font-size="10">P 0.8 M</text>
<path d="M415.3,300.7H422.8M431.8,300.7H438.8" stroke="#ff6c58" stroke-width="1.2" fill="none"/>
<circle cx="427.3" cy="300.7" r="3.0" fill="#fa4628" stroke="#5a140a" stroke-width="1.0"/>
<text class="ar" x="441.2" y="304.5" font-size="10">R 0.8 M</text>
<path d="M491.6,287.0H498.8M507.8,287.0H514.8" stroke="#349c80" stroke-width="1.2" fill="none"/>
<circle cx="503.3" cy="287.0" r="3.0" fill="#0c8264" stroke="#0a3228" stroke-width="1.0"/>
<text class="ar" x="517.1" y="290.8" font-size="10">P 3 M</text>
<path d="M491.6,300.7H498.8M507.8,300.7H514.8" stroke="#fa3458" stroke-width="1.2" fill="none"/>
<circle cx="503.3" cy="300.7" r="3.0" fill="#fa0a34" stroke="#640014" stroke-width="1.0"/>
<text class="ar" x="517.1" y="304.5" font-size="10">R 3 M</text>
</svg></body></html>
